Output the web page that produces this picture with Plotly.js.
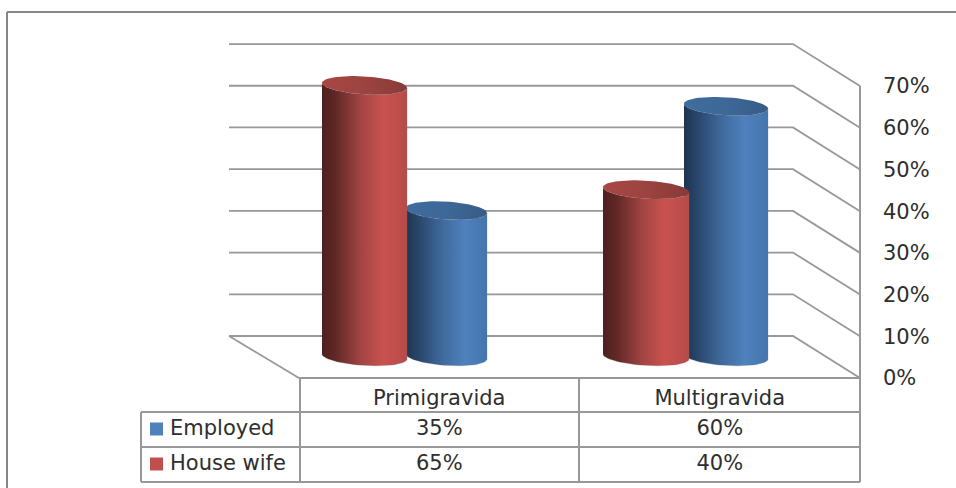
<!DOCTYPE html>
<html>
<head>
<meta charset="utf-8">
<script src="https://cdn.plot.ly/plotly-3.0.1.min.js"></script>
<style>html,body{margin:0;padding:0;background:#fff}#chart{width:956px;height:488px}</style>
</head>
<body>
<div id="chart"></div>
<script>
// Occupation by gravidity, drawn as a 3D-look cylinder column chart with a data table.
const categories = ['Primigravida', 'Multigravida'];
const employed = [35, 60];
const houseWife = [65, 40];
const tickValues = [0, 10, 20, 30, 40, 50, 60, 70];
const tickLabels = ['0%', '10%', '20%', '30%', '40%', '50%', '60%', '70%'];

const W = 956, H = 488;
// One category is 280.5px wide and one percent is 4.171px tall; the front floor edge sits at (299, 378).
const PX_PER_CAT = 280.5, PX_PER_PCT = 4.171, X0 = 299, Y0 = 378;
const dx = px => px / PX_PER_CAT;
const dy = px => px / PX_PER_PCT;
const toX = px => (px - X0) / PX_PER_CAT;
const toY = px => (Y0 - px) / PX_PER_PCT;

const GRID = '#989898', TEXT = '#2e2e2e', FONT = '"DejaVu Sans", sans-serif', FS = 21;

const traces = [];

// Walls and floor: each gridline runs along the back wall, then steps forward to the value axis.
const backL = toX(229), backR = toX(793), frontR = toX(860), depth = dy(42);
tickValues.forEach(v => {
  traces.push({
    type: 'scatter', mode: 'lines', hoverinfo: 'skip', showlegend: false,
    x: [backL, backR, frontR], y: [v + depth, v + depth, v],
    line: { color: GRID, width: 1.8 }
  });
});
traces.push({
  type: 'scatter', mode: 'lines', hoverinfo: 'skip', showlegend: false,
  x: [backL, 0], y: [depth, 0], line: { color: GRID, width: 1.8 }
});
traces.push({
  type: 'scatter', mode: 'lines', hoverinfo: 'skip', showlegend: false,
  x: [frontR, frontR], y: [0, 70], line: { color: GRID, width: 2 }
});

// Cylinder: a shaded body plus a darker elliptical cap, both placed from the value.
const BASE = dy(21.5), RY = dy(9), TILT = dy(2.5);
function ellipsePoint(cx, rx, cy, t) {
  return [cx + rx * Math.cos(t), cy + RY * Math.sin(t) - TILT * Math.cos(t)];
}
function cylinder(name, value, pxLeft, pxRight, bodyStops, capStops) {
  const cx = toX((pxLeft + pxRight) / 2), rx = dx((pxRight - pxLeft) / 2);
  const xs = [], ys = [], capX = [], capY = [];
  const top = value + BASE;
  // lower rim left to right, then the front edge of the cap right to left
  for (let i = 0; i <= 40; i++) {
    const [a, b] = ellipsePoint(cx, rx, BASE, Math.PI + Math.PI * i / 40);
    xs.push(a); ys.push(b);
  }
  for (let i = 0; i <= 40; i++) {
    const [a, b] = ellipsePoint(cx, rx, top, Math.PI * 2 - Math.PI * i / 40);
    xs.push(a); ys.push(b);
  }
  for (let i = 0; i <= 80; i++) {
    const [a, b] = ellipsePoint(cx, rx, top, Math.PI * 2 * i / 80);
    capX.push(a); capY.push(b);
  }
  traces.push({
    type: 'scatter', mode: 'lines', name, x: xs, y: ys, fill: 'toself', hoverinfo: 'skip', showlegend: false,
    line: { width: 0.6, color: 'rgba(120,120,120,0.45)' },
    fillgradient: { type: 'horizontal', colorscale: bodyStops }
  });
  traces.push({
    type: 'scatter', mode: 'lines', name, x: capX, y: capY, fill: 'toself', hoverinfo: 'skip', showlegend: false,
    line: { width: 0 },
    fillgradient: { type: 'horizontal', colorscale: capStops }
  });
}
const redBody = [[0, '#4e201f'], [0.15, '#5f2725'], [0.45, '#a04442'], [0.72, '#c9524f'], [1, '#b64b48']];
const redCap = [[0, '#a84744'], [0.5, '#9c4340'], [1, '#873b39']];
const blueBody = [[0, '#1f3550'], [0.15, '#28456a'], [0.45, '#3f6a9c'], [0.72, '#4f81bd'], [1, '#4475ad']];
const blueCap = [[0, '#3f6c9f'], [0.5, '#3d6897'], [1, '#375c86']];

// Blue sits behind red within each cluster.
const slots = [
  { emp: [406, 487], hw: [322, 407] },
  { emp: [684, 768], hw: [603, 689] }
];
categories.forEach((c, i) => {
  cylinder('Employed', employed[i], slots[i].emp[0], slots[i].emp[1], blueBody, blueCap);
  cylinder('House wife', houseWife[i], slots[i].hw[0], slots[i].hw[1], redBody, redCap);
});

// Data table rows with legend keys in the first column.
const rowY = [toY(430), toY(464.5)];
const keyY = [toY(429), toY(464)];
const colX = [0.5, 1.5];
const tableFont = { family: FONT, size: FS, color: TEXT };
[[employed, 'Employed', '#4f81bd'], [houseWife, 'House wife', '#c0504d']].forEach(([vals, name, col], r) => {
  traces.push({
    type: 'scatter', mode: 'markers', hoverinfo: 'skip', showlegend: false,
    x: [toX(156.5)], y: [keyY[r]], marker: { symbol: 'square', size: 13, color: col }
  });
  traces.push({
    type: 'scatter', mode: 'text', hoverinfo: 'skip', showlegend: false,
    x: [toX(170)], y: [rowY[r]], text: [name], textposition: 'middle right', textfont: tableFont
  });
  traces.push({
    type: 'scatter', mode: 'text', hoverinfo: 'skip', showlegend: false,
    x: colX, y: [rowY[r], rowY[r]], text: vals.map(v => v + '%'), textposition: 'middle center', textfont: tableFont
  });
});

const px = v => v / W, py = v => 1 - v / H;
const rule = (x0, y0, x1, y1, color, width) => ({
  type: 'line', xref: 'paper', yref: 'paper', layer: 'below',
  x0: px(x0), y0: py(y0), x1: px(x1), y1: py(y1), line: { color, width }
});
const shapes = [
  // outer frame
  rule(7, 12, 956, 12, '#868686', 2),
  rule(7, 12, 7, 488, '#868686', 2),
  // table grid
  rule(299, 378, 860, 378, GRID, 2),
  rule(141, 412, 860, 412, GRID, 2),
  rule(141, 447, 860, 447, GRID, 2),
  rule(141, 482, 860, 482, GRID, 2),
  rule(141, 412, 141, 482, GRID, 2),
  rule(300, 378, 300, 482, GRID, 2),
  rule(579, 378, 579, 482, GRID, 2),
  rule(860, 378, 860, 482, GRID, 2)
];

const layout = {
  width: W, height: H,
  margin: { l: 0, r: 0, t: 0, b: 0 },
  paper_bgcolor: '#fff', plot_bgcolor: '#fff',
  showlegend: false,
  hovermode: false,
  xaxis: {
    range: [toX(0), toX(W)], zeroline: false, showgrid: false, showline: false,
    anchor: 'free', position: py(378), side: 'bottom',
    tickmode: 'array', tickvals: colX, ticktext: categories, ticks: '',
    ticklabelstandoff: 5,
    tickfont: { family: FONT, size: FS, color: TEXT }
  },
  yaxis: {
    range: [toY(H), toY(0)], zeroline: false, showgrid: false, showline: false,
    anchor: 'free', position: px(860), side: 'right',
    tickmode: 'array', tickvals: tickValues, ticktext: tickLabels, ticks: '',
    ticklabelstandoff: 22,
    tickfont: { family: FONT, size: FS, color: TEXT }
  },
  shapes
};

Plotly.newPlot('chart', traces, layout, { staticPlot: true, displayModeBar: false });
</script>
</body>
</html>
